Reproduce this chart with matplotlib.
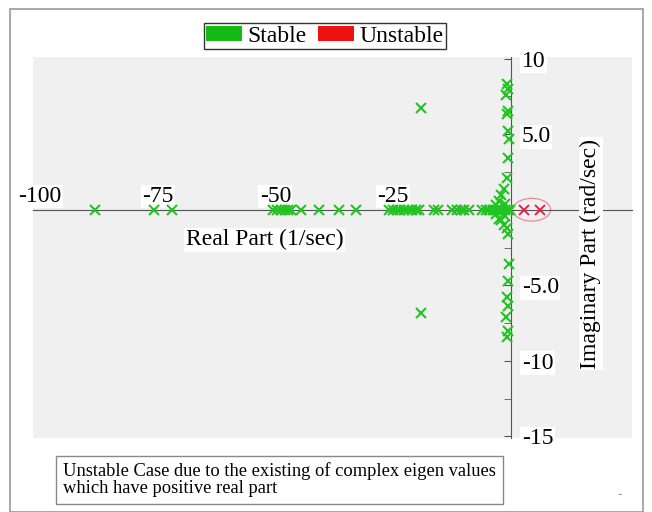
import matplotlib
matplotlib.use("Agg")
import matplotlib.pyplot as plt
from matplotlib.patches import Patch, Ellipse, Rectangle

# stable eigenvalues on the real axis (1/sec)
stable_real = [-88.3, -75.8, -72.0,
               -50.4, -49.6, -48.8, -48.0, -47.3, -46.6, -44.5, -40.7, -36.4, -32.8,
               -25.8, -25.0, -24.2, -23.4, -22.6, -21.8, -21.0, -20.2, -19.5,
               -16.3, -15.5, -12.5, -11.4, -10.6, -9.8, -8.9,
               -6.0, -5.2, -4.5, -3.8, -3.0, -2.4, -1.8, -1.2, -0.6, -0.2]

# stable complex eigenvalues (real, imag)
stable_cplx_re = [-19.0, -19.0,
                  -0.8, -0.6, -0.9, -0.5, -0.7, -0.6, -0.4, -0.6, -0.8, -1.5, -2.0,
                  -0.8, -0.6, -0.9, -0.5, -0.7, -0.6, -0.4, -0.6, -0.8, -1.5, -2.0,
                  -2.5, -2.5, -1.2, -1.2, -3.2, -3.2]
stable_cplx_im = [6.7, -6.8,
                  8.3, 8.0, 7.6, 6.5, 6.3, 5.2, 4.7, 3.4, 2.1, 1.4, 1.0,
                  -8.4, -8.0, -7.1, -6.4, -5.8, -4.7, -3.6, -1.6, -1.2, -1.0, -0.7,
                  0.6, -0.6, 0.4, -0.4, 0.3, -0.3]

# unstable eigenvalues
unstable_re = [2.8, 6.3]
unstable_im = [0.0, 0.0]

x_ticks = [-100, -75, -50, -25]
y_ticks = [-15, -10, -5, 5, 10]
y_tick_labels = ['-15', '-10', '-5.0', '5.0', '10']

serif = 'Liberation Serif'
green = '#22c422'
red = '#e8204a'

fig = plt.figure(figsize=(6.52, 5.12), dpi=100)
ax = fig.add_axes([33 / 652, 1 - 438 / 512, 599 / 652, 381 / 512])
ax.set_facecolor('#f0f0f0')
ax.set_xlim(-101.5, 25.8)
ax.set_ylim(-15.1, 10.1)

# zero line grid
ax.axhline(0, color='#b0b0b0', lw=0.8, ls=':', zorder=1)

ax.plot(stable_real, [0] * len(stable_real), 'x', color=green, ms=6.5, mew=1.5, zorder=3)
ax.plot(stable_cplx_re, stable_cplx_im, 'x', color=green, ms=6.5, mew=1.5, zorder=3)
ax.plot(unstable_re, unstable_im, 'x', color=red, ms=6.5, mew=1.4, zorder=3)
ax.add_patch(Ellipse((4.5, 0), 8.0, 1.5, fill=False, ec='#e88a9a', lw=0.9, zorder=2))

# axes through the origin
for s in ['left', 'bottom']:
    ax.spines[s].set_visible(False)
ax.spines['top'].set_position(('data', 0))
ax.spines['right'].set_position(('data', 0))
ax.spines['top'].set_color('#555555')
ax.spines['right'].set_color('#555555')
ax.xaxis.tick_top()
ax.yaxis.tick_right()

ax.set_xticks(x_ticks)
ax.set_xticklabels([str(v) for v in x_ticks], fontsize=17, family=serif)
ax.tick_params(axis='x', length=0, pad=2)
ax.set_yticks(y_ticks)
ax.set_yticklabels(y_tick_labels, fontsize=17, family=serif)
ax.set_yticks([-12.5, -7.5, -2.5, 2.5, 7.5], minor=True)
ax.tick_params(axis='y', which='both', direction='in', length=5, color='#555555', pad=8)
for lbl in ax.get_xticklabels() + ax.get_yticklabels():
    lbl.set_bbox(dict(facecolor='white', edgecolor='none', pad=1))

ax.text(-52.3, -2.0, 'Real Part (1/sec)', fontsize=17, family=serif,
        ha='center', va='center', bbox=dict(facecolor='white', edgecolor='none', pad=1))
ax.text(17.0, -2.9, 'Imaginary Part (rad/sec)', fontsize=17, family=serif, rotation=90,
        ha='center', va='center', bbox=dict(facecolor='white', edgecolor='none', pad=1))

handles = [Patch(facecolor='#11bb11', label='Stable'),
           Patch(facecolor='#ee1111', label='Unstable')]
leg = fig.legend(handles=handles, loc='center', bbox_to_anchor=(325 / 652, 1 - 36 / 512),
                 ncol=2, fancybox=False, framealpha=1, edgecolor='#333333',
                 prop={'family': serif, 'size': 17}, handlelength=1.5, handleheight=0.6,
                 handletextpad=0.25, columnspacing=0.5, borderpad=0.1, borderaxespad=0)

# outer frame
fig.patches.append(Rectangle((10 / 652, 0), 633 / 652, 1 - 9 / 512, transform=fig.transFigure,
                             fill=False, ec='#999999', lw=1.2))

# note box
fig.text(63 / 652, 1 - 480 / 512,
         'Unstable Case due to the existing of complex eigen values\nwhich have positive real part',
         fontsize=13.3, family=serif, ha='left', va='center', linespacing=1.0,
         bbox=dict(facecolor='white', edgecolor='#888888', pad=5))
fig.text(620 / 652, 1 - 495 / 512, '-', fontsize=9, color='#888888', ha='center', va='center')

fig.savefig('out.png', dpi=100)
